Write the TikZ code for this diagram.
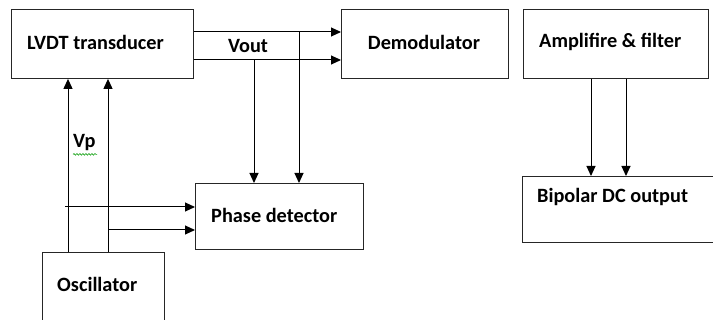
\documentclass[tikz,border=0pt]{standalone}
\usepackage{fontspec}
\setmainfont{Carlito}
\usetikzlibrary{arrows.meta,decorations.pathmorphing}

\begin{document}
\begin{tikzpicture}[x=1pt,y=-1pt,
  blk/.style={draw=black!85,line width=0.9pt,rectangle,inner sep=0pt,anchor=north west},
  lbl/.style={font=\bfseries\fontsize{20.3}{24}\selectfont,inner sep=0pt},
  arr/.style={draw=black,line width=1pt,-{Triangle[length=10pt,width=9pt]}}]
\useasboundingbox (0,0) rectangle (713,320);
\clip (0,0) rectangle (713,320);

% blocks
\node[blk,minimum width=182pt,minimum height=69pt] (lvdt) at (11,9) {};
\node[blk,minimum width=167pt,minimum height=69pt] (demod) at (341,9) {};
\node[blk,minimum width=185pt,minimum height=69pt] (amp) at (523,9) {};
\node[blk,minimum width=168pt,minimum height=66pt] (phase) at (195,183) {};
\node[blk,minimum width=122pt,minimum height=90pt] (osc) at (42,252) {};
\node[blk,minimum width=210pt,minimum height=66pt] (bip) at (522,176) {};

% block captions
\node[lbl,anchor=west] (tlvdt) at (27,42) {LVDT transducer};
\node[lbl] (tdemod) at (424,42) {Demodulator};
\node[lbl,anchor=west] (tamp) at (539,42) {Amplifire \& filter};
\node[lbl,anchor=west] (tbip) at (537,197) {Bipolar DC output};
\node[lbl,anchor=west] (tphase) at (211,215) {Phase detector};
\node[lbl,anchor=west] (tosc) at (57,284) {Oscillator};

% signal labels
\node[lbl] (vout) at (248,46) {Vout};
\node[lbl,anchor=west] (vp) at (73,143) {Vp};
\draw[green!60!black,line width=0.6pt,decorate,decoration={snake,amplitude=0.8pt,segment length=3pt}]
  (vp.south west) ++(0,3) -- ++(24,0);

% LVDT outputs to demodulator
\draw[arr] (lvdt.east |- 0,32) -- (demod.west |- 0,32);
\draw[arr] (lvdt.east |- 0,60) -- (demod.west |- 0,60);

% taps to the phase detector
\draw[arr] (254,60) -- (phase.north -| 254,0);
\draw[arr] (299,32) -- (phase.north -| 299,0);

% oscillator excitation to the LVDT
\draw[arr] (osc.north -| 68,0) -- (lvdt.south -| 68,0);
\draw[arr] (osc.north -| 108,0) -- (lvdt.south -| 108,0);

% reference to the phase detector
\draw[arr] (65,207) -- (phase.west |- 0,207);
\draw[arr] (108,230) -- (phase.west |- 0,230);

% amplifier to output
\draw[arr] (amp.south -| 591,0) -- (bip.north -| 591,0);
\draw[arr] (amp.south -| 626,0) -- (bip.north -| 626,0);
\end{tikzpicture}
\end{document}
